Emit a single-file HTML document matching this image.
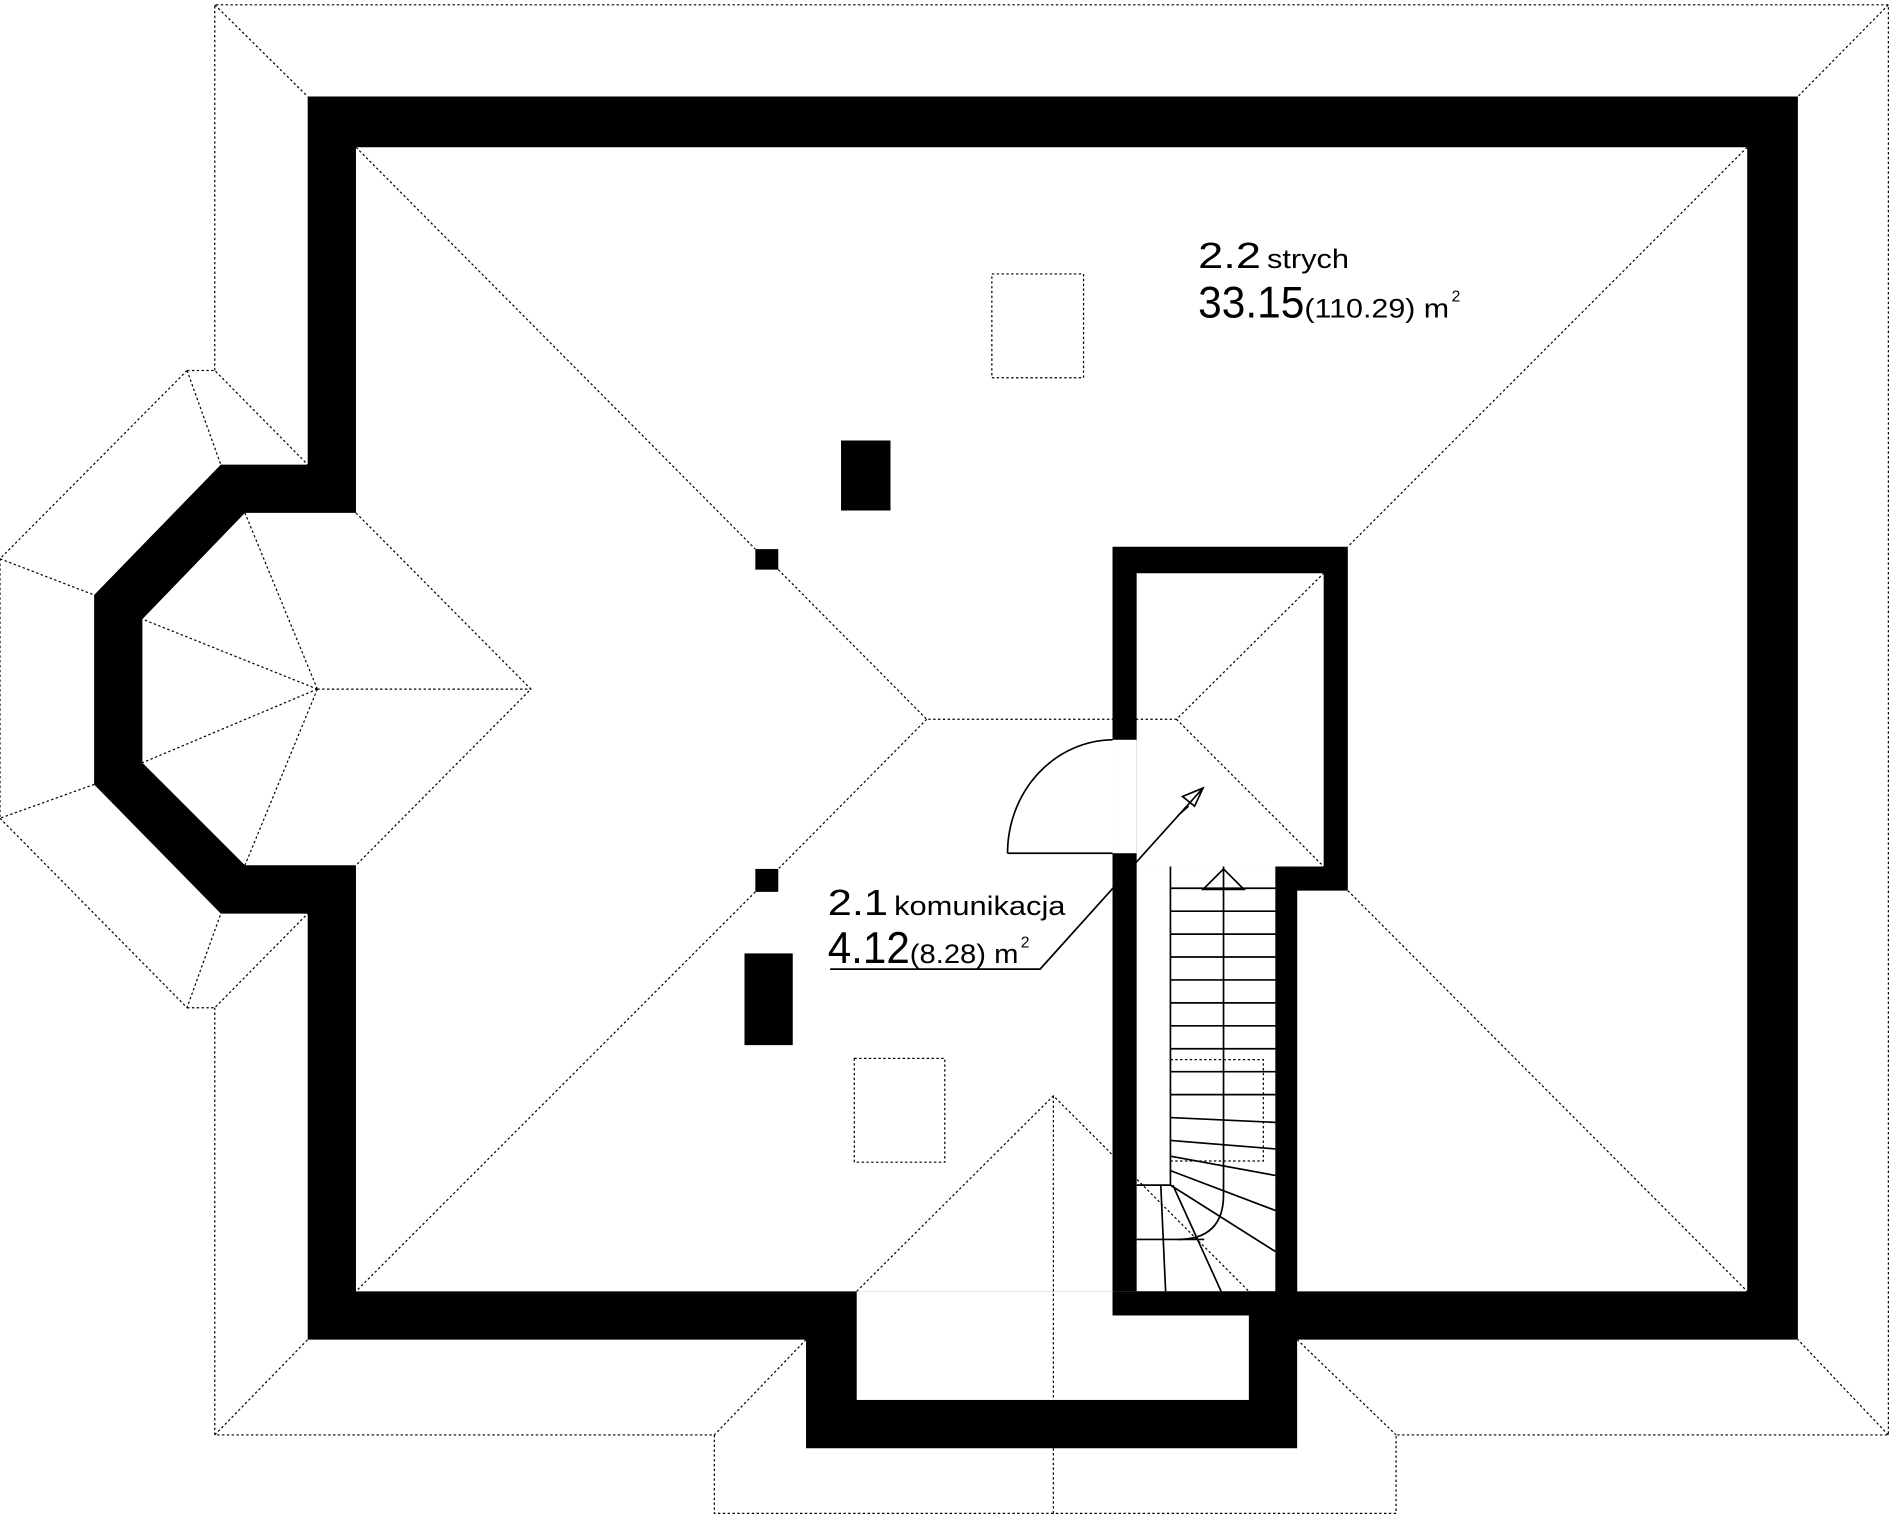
<!DOCTYPE html>
<html><head><meta charset="utf-8"><style>html,body{margin:0;padding:0;background:#fff}svg{display:block}</style></head><body>
<svg width="1892" height="1517" viewBox="0 0 1568 1257" preserveAspectRatio="none" xmlns="http://www.w3.org/2000/svg">
<rect width="1568" height="1257" fill="#fff"/>
<path fill="#000" fill-rule="evenodd" d="M255,80 H1490 V1110 H1075 V1200 H668 V1110 H255 V757 H183 L78,650 V493 L183,385 H255 Z
M295,122 H1448 V1070 H1075 V738 H1117 V453 H922 V1070 H295 V717 H203 L118,632 V513 L203,425 H295 Z"/>
<rect x="710" y="1070" width="325" height="90" fill="#fff"/>
<rect x="942" y="475" width="155" height="243" fill="#fff"/>
<rect x="942" y="718" width="115" height="352" fill="#fff"/>
<rect x="922" y="613" width="20" height="94" fill="#fff"/>
<g fill="#000">
<rect x="1057" y="718" width="18" height="392"/>
<rect x="922" y="1070" width="153" height="20"/>
<rect x="697" y="365" width="41" height="58"/>
<rect x="626" y="455" width="19" height="17"/>
<rect x="626" y="720" width="19" height="19"/>
<rect x="617" y="790" width="40" height="76"/>
</g>
<g fill="none" stroke="#000" stroke-width="1" stroke-dasharray="2,2">
<path d="M178,307 V4 H1565 V1189 H1157 V1254 H592 V1189 H178 V835"/>
<path d="M178,4 L255,80 M1565,4 L1490,80 M1565,1189 L1490,1110 M178,1189 L255,1110"/>
<path d="M668,1110 L592,1189 M1075,1110 L1157,1189 M873,1200 V1254"/>
<path d="M710,1070 L873,908 L1035,1070 M873,908 V1160"/>
<path d="M295,122 L626,455 M645,472 L768,596 L975,596 L1097,475 M975,596 L1097,718 M768,596 L645,720 M626,739 L295,1070"/>
<path d="M1448,122 L1117,453 M1117,738 L1448,1070"/>
<path d="M295,425 L440,571 L295,717 M263,571 L440,571 M263,571 L203,425 M263,571 L118,513 M263,571 L118,632 M263,571 L203,717"/>
<path d="M155,307 H178 L255,385 M155,307 L183,385 M155,307 L0,463 L78,493 M0,463 V678 L78,650 M0,678 L155,835 L183,757 M155,835 H178 L255,757"/>
<rect x="822" y="227" width="76" height="86"/>
<rect x="708" y="877" width="75" height="86"/>
<path d="M970,878 H1047 V962 H970"/>
</g>
<g fill="none" stroke="#000" stroke-width="1.4">
<path d="M835,707 A88,94 0 0 1 922,613 M835,707 H922"/>
<path d="M688,803 H862 L997,653 M997,653 L980,660 L990,668 Z M976,676 L985,668"/>
<path d="M970,718 V982 H942"/>
<path d="M970,736 H1057 M970,755 H1057 M970,774 H1057 M970,793 H1057 M970,812 H1057 M970,831 H1057 M970,850 H1057 M970,869 H1057 M970,888 H1057 M970,907 H1057"/>
<path d="M970,926 L1057,930 M970,945 L1057,952 M970,958 L1057,974 M970,970 L1057,1003 M970,982 L1057,1037"/>
<path d="M962,982 L966,1070 M972,982 L1012,1070 M942,1027 H998"/>
<path d="M1014,718 V990 Q1014,1027 976,1027"/>
<path d="M997,737 H1031 L1014,720 Z"/>
</g>
<g font-family="'Liberation Sans Narrow','Liberation Sans',sans-serif" fill="#000">
<text x="993" y="222" font-size="30" textLength="52" lengthAdjust="spacingAndGlyphs">2.2</text>
<text x="1050" y="222" font-size="22" textLength="68" lengthAdjust="spacingAndGlyphs">strych</text>
<text x="993" y="263" font-size="37" textLength="88" lengthAdjust="spacingAndGlyphs">33.15</text>
<text x="1081" y="263" font-size="22" textLength="120" lengthAdjust="spacingAndGlyphs">(110.29) m</text>
<text x="1203" y="250" font-size="13">2</text>
<text x="686" y="758" font-size="30" textLength="50" lengthAdjust="spacingAndGlyphs">2.1</text>
<text x="741" y="758" font-size="22" textLength="142" lengthAdjust="spacingAndGlyphs">komunikacja</text>
<text x="686" y="798" font-size="37" textLength="68" lengthAdjust="spacingAndGlyphs">4.12</text>
<text x="754" y="798" font-size="22" textLength="90" lengthAdjust="spacingAndGlyphs">(8.28) m</text>
<text x="846" y="785" font-size="13">2</text>
</g>
</svg>
</body></html>
